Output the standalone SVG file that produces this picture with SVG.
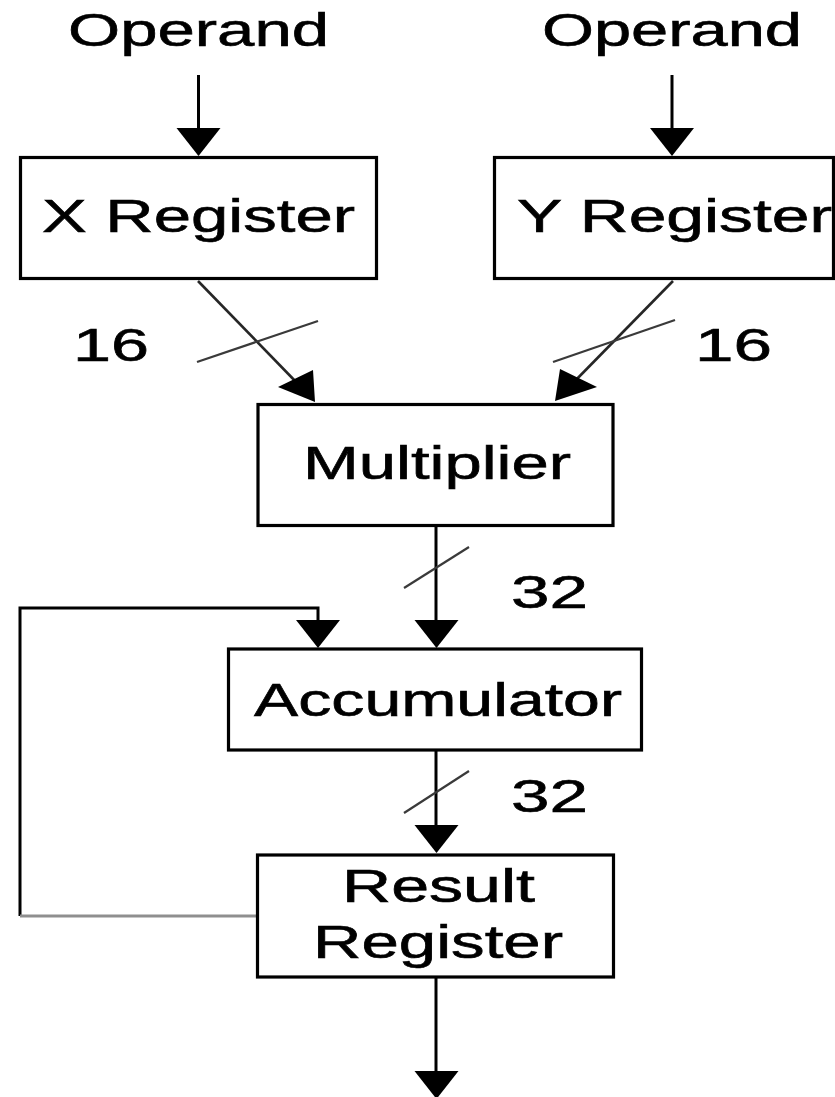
<svg xmlns="http://www.w3.org/2000/svg" xmlns:xlink="http://www.w3.org/1999/xlink" width="835" height="1097" viewBox="0 0 835 1097">
  <style>
    .box { fill: #fff; stroke: #000; stroke-width: 3.2; }
    .lbl { font-family: "Liberation Sans", Arial, sans-serif; font-size: 46px; fill: #000; stroke: #000; stroke-width: 0.6; }
    .wire { fill: none; stroke: #000; stroke-width: 3; }
    .diag { fill: none; stroke: #262626; stroke-width: 2.6; }
    .slash { fill: none; stroke: #3a3a3a; stroke-width: 2.2; }
    .head { fill: #000; }
  </style>
  <defs>
    <!-- downward arrowhead, tip at the origin -->
    <path id="down" class="head" d="M-22,-28 L22,-28 L0,0 Z"/>
  </defs>

  <rect width="835" height="1097" fill="#fff"/>

  <!-- input labels -->
  <g id="operand-x"><text class="lbl" x="68" y="46" textLength="261" lengthAdjust="spacingAndGlyphs">Operand</text></g>
  <g id="operand-y"><text class="lbl" x="542" y="46" textLength="260" lengthAdjust="spacingAndGlyphs">Operand</text></g>

  <!-- connectors -->
  <g id="connectors">
    <line class="wire" x1="198.5" y1="75" x2="198.5" y2="130"/>
    <use xlink:href="#down" x="198.5" y="156"/>
    <line class="wire" x1="672" y1="75" x2="672" y2="130"/>
    <use xlink:href="#down" x="672" y="156"/>

    <!-- X register to multiplier, 16 bits -->
    <line class="diag" x1="198" y1="281" x2="300" y2="386"/>
    <polygon class="head" points="315,402 278,387 313,370"/>
    <line class="slash" x1="197" y1="362" x2="318" y2="321"/>

    <!-- Y register to multiplier, 16 bits -->
    <line class="diag" x1="673" y1="281" x2="570" y2="386"/>
    <polygon class="head" points="555,401 560,369 597,387"/>
    <line class="slash" x1="553" y1="362" x2="675" y2="320"/>

    <!-- multiplier to accumulator, 32 bits -->
    <line class="wire" x1="436" y1="527" x2="436" y2="624"/>
    <use xlink:href="#down" x="436.5" y="648"/>
    <line class="slash" x1="404" y1="588" x2="469" y2="547"/>

    <!-- feedback from result register -->
    <polyline class="wire" points="20,916 20,608 318,608 318,624"/>
    <line x1="20" y1="916" x2="257" y2="916" stroke="#8f8f8f" stroke-width="3"/>
    <use xlink:href="#down" x="318" y="648"/>

    <!-- accumulator to result register, 32 bits -->
    <line class="wire" x1="436" y1="750" x2="436" y2="828"/>
    <use xlink:href="#down" x="436.5" y="853"/>
    <line class="slash" x1="404" y1="813" x2="469" y2="771"/>

    <!-- output -->
    <line class="wire" x1="436" y1="977" x2="436" y2="1075"/>
    <use xlink:href="#down" x="436.5" y="1099"/>
  </g>

  <!-- width labels -->
  <g id="width-labels">
    <text class="lbl" x="73" y="361" textLength="76" lengthAdjust="spacingAndGlyphs">16</text>
    <text class="lbl" x="695" y="361" textLength="77" lengthAdjust="spacingAndGlyphs">16</text>
    <text class="lbl" x="511" y="608" textLength="77" lengthAdjust="spacingAndGlyphs">32</text>
    <text class="lbl" x="511" y="812" textLength="77" lengthAdjust="spacingAndGlyphs">32</text>
  </g>

  <g id="x-register">
    <rect class="box" x="20.5" y="157.5" width="356" height="121"/>
    <text class="lbl" x="42" y="232" textLength="313" lengthAdjust="spacingAndGlyphs">X Register</text>
  </g>

  <g id="y-register">
    <rect class="box" x="494.5" y="157.5" width="339" height="121"/>
    <text class="lbl" x="517" y="232" textLength="315" lengthAdjust="spacingAndGlyphs">Y Register</text>
  </g>

  <g id="multiplier">
    <rect class="box" x="258" y="404.5" width="355" height="121"/>
    <text class="lbl" x="303" y="479" textLength="268" lengthAdjust="spacingAndGlyphs">Multiplier</text>
  </g>

  <g id="accumulator">
    <rect class="box" x="228.5" y="649" width="413" height="101"/>
    <text class="lbl" x="254" y="716" textLength="368" lengthAdjust="spacingAndGlyphs">Accumulator</text>
  </g>

  <g id="result-register">
    <rect class="box" x="257.5" y="855" width="356" height="122"/>
    <text class="lbl" x="342" y="902" textLength="193" lengthAdjust="spacingAndGlyphs">Result</text>
    <text class="lbl" x="313" y="958" textLength="250" lengthAdjust="spacingAndGlyphs">Register</text>
  </g>
</svg>
